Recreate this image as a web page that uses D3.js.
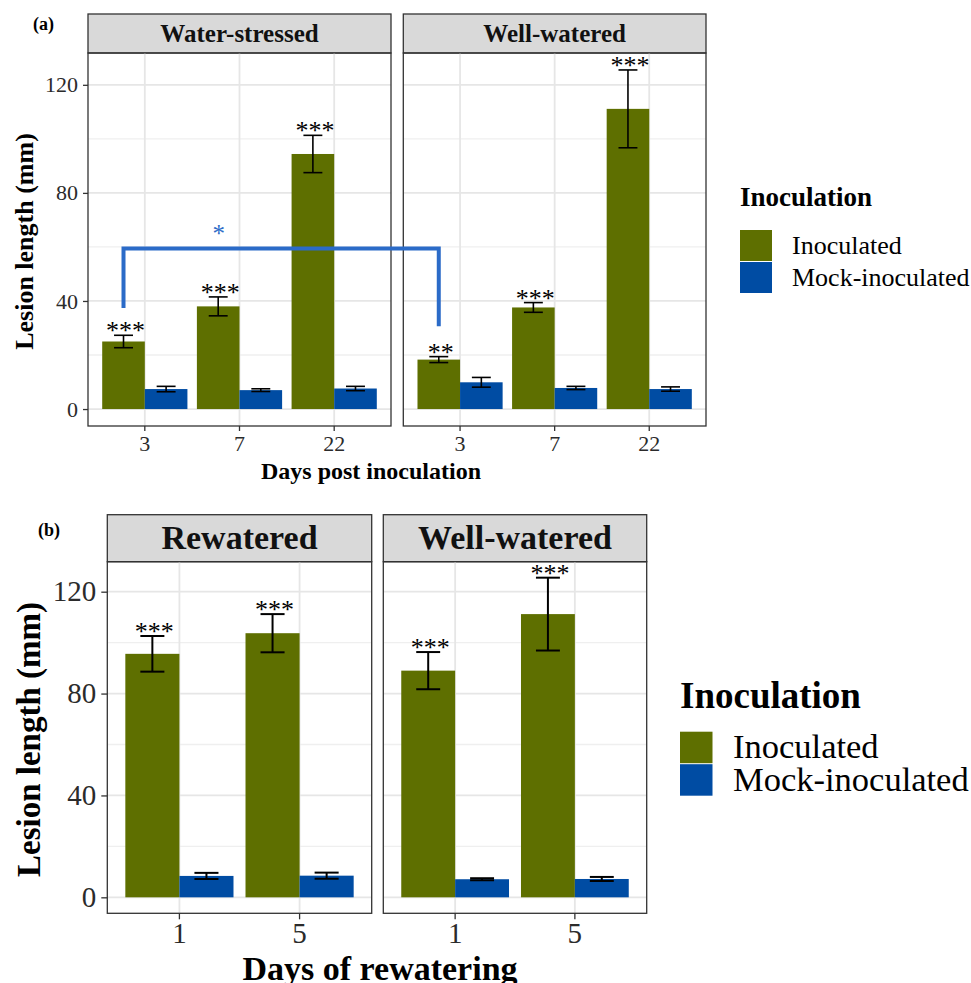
<!DOCTYPE html>
<html>
<head>
<meta charset="utf-8">
<script src="https://cdn.jsdelivr.net/npm/d3@7"></script>
<style>
  body { margin: 0; background: #fff; }
  svg { display: block; }
</style>
</head>
<body>
<div id="chart"></div>
<script>
// categories
const daysPost = ["3", "7", "22"];
const daysRewater = ["1", "5"];
const inoculation = ["Inoculated", "Mock-inoculated"];
const yTicks = [0, 40, 80, 120];
const yMinor = [20, 60, 100];

// (a) water-stressed / well-watered, lesion length (mm) and error
const stressedInoc = [25.0, 38.0, 94.4];
const stressedInocErr = [2.3, 3.5, 6.9];
const stressedMock = [7.4, 7.0, 7.6];
const stressedMockErr = [1.0, 0.5, 0.8];
const stressedStars = ["***", "***", "***"];

const wellInocA = [18.3, 37.6, 111.1];
const wellInocErrA = [1.1, 1.8, 14.4];
const wellMockA = [9.9, 7.8, 7.4];
const wellMockErrA = [1.8, 0.6, 0.8];
const wellStarsA = ["**", "***", "***"];

// (b) rewatered / well-watered
const rewateredInoc = [95.6, 103.7];
const rewateredInocErr = [7.0, 7.5];
const rewateredMock = [8.4, 8.5];
const rewateredMockErr = [1.2, 1.2];
const rewateredStars = ["***", "***"];

const wellInocB = [89.0, 111.2];
const wellInocErrB = [7.3, 14.3];
const wellMockB = [7.1, 7.2];
const wellMockErrB = [0.4, 0.8];
const wellStarsB = ["***", "***"];

// comparison bracket between the two day-3 inoculated bars of (a)
const bracketA = [
  { panel: "Water-stressed", day: "3", value: 37.4 },
  { panel: "Water-stressed", day: "3", value: 59.4 },
  { panel: "Well-watered", day: "3", value: 59.4 },
  { panel: "Well-watered", day: "3", value: 30.6 }
];
const bracketStar = { panel: "Water-stressed", from: "3", to: "7", frac: 0.78, value: 62, label: "*" };

const serif = "'Liberation Serif', 'Times New Roman', serif";
const fill = d3.scaleOrdinal().domain(inoculation).range(["#5e6f00", "#004ca3"]);
const sigBlue = "#2b6bc8";

const svg = d3.select("#chart").append("svg")
  .attr("width", 971)
  .attr("height", 983)
  .style("background", "#fff");

function drawFigure(o) {
  const maxTop = d3.max(o.panels, p => d3.max(p.inoc.map((v, i) => v + p.inocErr[i])));
  const span = maxTop;
  const y = d3.scaleLinear()
    .domain([-0.05 * span, maxTop + 0.05 * span])
    .range([o.bottom, o.top]);

  const scales = {};

  o.panels.forEach(p => {
    const x = d3.scaleBand().domain(o.days).range([p.x0, p.x1])
      .paddingInner(0.1).paddingOuter(0.15);
    const xg = d3.scaleBand().domain(inoculation).range([0, x.bandwidth()]);
    scales[p.name] = { x, xg };

    const g = svg.append("g");

    // strip
    g.append("rect")
      .attr("x", p.x0).attr("y", o.stripTop)
      .attr("width", p.x1 - p.x0).attr("height", o.top - o.stripTop)
      .attr("fill", "#d9d9d9").attr("stroke", "#333").attr("stroke-width", 1.3);
    g.append("text")
      .attr("x", (p.x0 + p.x1) / 2)
      .attr("y", (o.stripTop + o.top) / 2 + o.stripSize * 0.33)
      .attr("text-anchor", "middle")
      .attr("font-family", serif).attr("font-weight", "bold")
      .attr("font-size", o.stripSize).attr("fill", "#111")
      .text(p.name);

    // grid
    g.selectAll(".minor").data(yMinor).join("line")
      .attr("x1", p.x0).attr("x2", p.x1)
      .attr("y1", d => y(d)).attr("y2", d => y(d))
      .attr("stroke", "#efefef").attr("stroke-width", 1.3);
    g.selectAll(".major").data(yTicks).join("line")
      .attr("x1", p.x0).attr("x2", p.x1)
      .attr("y1", d => y(d)).attr("y2", d => y(d))
      .attr("stroke", "#e6e6e6").attr("stroke-width", 1.8);
    g.selectAll(".vgrid").data(o.days).join("line")
      .attr("x1", d => x(d) + x.bandwidth() / 2).attr("x2", d => x(d) + x.bandwidth() / 2)
      .attr("y1", o.top).attr("y2", o.bottom)
      .attr("stroke", "#e6e6e6").attr("stroke-width", 1.8);

    const rows = o.days.map((d, i) => ({
      day: d,
      star: p.stars[i],
      values: [
        { day: d, group: "Inoculated", mean: p.inoc[i], err: p.inocErr[i] },
        { day: d, group: "Mock-inoculated", mean: p.mock[i], err: p.mockErr[i] }
      ]
    }));
    const flat = rows.flatMap(r => r.values);
    const cx = d => x(d.day) + xg(d.group) + xg.bandwidth() / 2;
    const cap = 0.1 * x.step();

    g.selectAll(".bar").data(flat).join("rect")
      .attr("x", d => x(d.day) + xg(d.group))
      .attr("width", xg.bandwidth())
      .attr("y", d => y(d.mean))
      .attr("height", d => y(0) - y(d.mean))
      .attr("fill", d => fill(d.group));

    const eb = g.selectAll(".err").data(flat).join("g")
      .attr("stroke", "#000").attr("stroke-width", o.errWidth);
    eb.append("line")
      .attr("x1", cx).attr("x2", cx)
      .attr("y1", d => y(d.mean - d.err)).attr("y2", d => y(d.mean + d.err));
    eb.append("line")
      .attr("x1", d => cx(d) - cap).attr("x2", d => cx(d) + cap)
      .attr("y1", d => y(d.mean + d.err)).attr("y2", d => y(d.mean + d.err));
    eb.append("line")
      .attr("x1", d => cx(d) - cap).attr("x2", d => cx(d) + cap)
      .attr("y1", d => y(d.mean - d.err)).attr("y2", d => y(d.mean - d.err));

    g.selectAll(".star").data(rows.map(r => ({ ...r.values[0], star: r.star }))).join("text")
      .attr("x", d => cx(d) + 2)
      .attr("y", d => y(d.mean + d.err) + 4)
      .attr("text-anchor", "middle")
      .attr("font-family", serif).attr("font-size", o.starSize).attr("fill", "#000")
      .text(d => d.star);

    // panel border
    g.append("rect")
      .attr("x", p.x0).attr("y", o.top)
      .attr("width", p.x1 - p.x0).attr("height", o.bottom - o.top)
      .attr("fill", "none").attr("stroke", "#333").attr("stroke-width", 1.3);

    // x axis
    const xa = g.append("g")
      .attr("transform", `translate(0,${o.bottom})`)
      .call(d3.axisBottom(x).tickSize(o.tick).tickPadding(o.xPad));
    xa.select(".domain").remove();
    xa.selectAll("line").attr("stroke", "#333").attr("stroke-width", 1.3);
    xa.selectAll("text").attr("font-family", serif).attr("font-size", o.tickSize).attr("fill", "#2b2b2b");
  });

  // y axis on first panel
  const ya = svg.append("g")
    .attr("transform", `translate(${o.panels[0].x0},0)`)
    .call(d3.axisLeft(y).tickValues(yTicks).tickSize(o.tick).tickPadding(o.yPad));
  ya.select(".domain").remove();
  ya.selectAll("line").attr("stroke", "#333").attr("stroke-width", 1.3);
  ya.selectAll("text").attr("font-family", serif).attr("font-size", o.tickSize).attr("fill", "#2b2b2b");

  // titles
  svg.append("text")
    .attr("transform", `translate(${o.yTitleX},${(o.top + o.bottom) / 2 + 2}) rotate(-90)`)
    .attr("text-anchor", "middle")
    .attr("font-family", serif).attr("font-weight", "bold").attr("font-size", o.titleSize)
    .text("Lesion length (mm)");
  svg.append("text")
    .attr("x", o.xTitleX).attr("y", o.xTitleY)
    .attr("text-anchor", "middle")
    .attr("font-family", serif).attr("font-weight", "bold").attr("font-size", o.xTitleSize)
    .text(o.xTitle);
  svg.append("text")
    .attr("x", o.tagX).attr("y", o.tagY)
    .attr("font-family", serif).attr("font-weight", "bold").attr("font-size", 18)
    .text(o.tag);

  // legend
  const lg = svg.append("g");
  lg.append("text")
    .attr("x", o.legend.x).attr("y", o.legend.titleY)
    .attr("font-family", serif).attr("font-weight", "bold").attr("font-size", o.legend.titleSize)
    .text("Inoculation");
  const items = lg.selectAll(".item").data(inoculation).join("g")
    .attr("transform", (d, i) => `translate(${o.legend.x},${o.legend.keyY + i * o.legend.key})`);
  items.append("rect")
    .attr("width", o.legend.key).attr("height", o.legend.key - 1)
    .attr("fill", d => fill(d));
  items.append("text")
    .attr("x", o.legend.textDx).attr("y", o.legend.key * 0.5 + o.legend.textSize * 0.3)
    .attr("font-family", serif).attr("font-size", o.legend.textSize)
    .text(d => d);

  return { y, scales };
}

const figA = drawFigure({
  days: daysPost,
  panels: [
    { name: "Water-stressed", x0: 88, x1: 391, inoc: stressedInoc, inocErr: stressedInocErr,
      mock: stressedMock, mockErr: stressedMockErr, stars: stressedStars },
    { name: "Well-watered", x0: 403.3, x1: 706, inoc: wellInocA, inocErr: wellInocErrA,
      mock: wellMockA, mockErr: wellMockErrA, stars: wellStarsA }
  ],
  stripTop: 14, top: 53, bottom: 426,
  stripSize: 25, tickSize: 22, starSize: 26, titleSize: 26, xTitleSize: 24,
  tick: 5, xPad: 4, yPad: 5, errWidth: 1.6,
  yTitleX: 33, xTitleX: 371, xTitleY: 479, xTitle: "Days post inoculation",
  tag: "(a)", tagX: 33, tagY: 30,
  legend: { x: 740, titleY: 206, titleSize: 27, keyY: 230, key: 32, textDx: 52, textSize: 26 }
});

const figB = drawFigure({
  days: daysRewater,
  panels: [
    { name: "Rewatered", x0: 107.3, x1: 371.7, inoc: rewateredInoc, inocErr: rewateredInocErr,
      mock: rewateredMock, mockErr: rewateredMockErr, stars: rewateredStars },
    { name: "Well-watered", x0: 383.3, x1: 646.7, inoc: wellInocB, inocErr: wellInocErrB,
      mock: wellMockB, mockErr: wellMockErrB, stars: wellStarsB }
  ],
  stripTop: 514.7, top: 561.7, bottom: 913.3,
  stripSize: 34, tickSize: 29, starSize: 26, titleSize: 33, xTitleSize: 34,
  tick: 6, xPad: 3, yPad: 5, errWidth: 2,
  yTitleX: 40, xTitleX: 380, xTitleY: 980, xTitle: "Days of rewatering",
  tag: "(b)", tagX: 38, tagY: 536,
  legend: { x: 680, titleY: 708, titleSize: 37, keyY: 731.7, key: 32.5, textDx: 53, textSize: 34.5 }
});

// significance bracket in (a)
const barCenter = d => {
  const s = figA.scales[d.panel];
  return s.x(d.day) + s.xg("Inoculated") + s.xg.bandwidth() / 2;
};
svg.append("path")
  .datum(bracketA)
  .attr("fill", "none")
  .attr("stroke", sigBlue)
  .attr("stroke-width", 4)
  .attr("d", d3.line().x(barCenter).y(d => figA.y(d.value)));

const sa = figA.scales[bracketStar.panel].x;
const c0 = sa(bracketStar.from) + sa.bandwidth() / 2;
const c1 = sa(bracketStar.to) + sa.bandwidth() / 2;
svg.append("text")
  .attr("x", c0 + (c1 - c0) * bracketStar.frac)
  .attr("y", figA.y(bracketStar.value))
  .attr("text-anchor", "middle")
  .attr("font-family", serif).attr("font-size", 25).attr("fill", sigBlue)
  .text(bracketStar.label);
</script>
</body>
</html>
